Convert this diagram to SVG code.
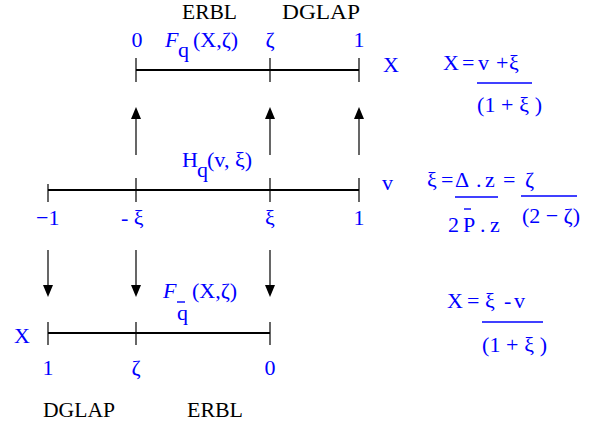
<svg xmlns="http://www.w3.org/2000/svg" width="595" height="423" viewBox="0 0 595 423">
<style>
.b{font-family:"Liberation Serif","Times New Roman",serif;font-size:22px;fill:#0000ff}
.k{font-family:"Liberation Serif","Times New Roman",serif;font-size:20px;fill:#000}
.i{font-style:italic}
.ax{stroke:#000;stroke-width:2.2;fill:none}
.tk{stroke:#000;stroke-width:1.2;fill:none}
.sh{stroke:#000;stroke-width:1.2;fill:none}
.fr{stroke:#0000ff;stroke-width:1.4;fill:none}
.ah{fill:#000}
</style>
<rect width="595" height="423" fill="#fff"/>
<g id="axis-top">
<line class="ax" x1="136" y1="70" x2="359" y2="70"/>
<line class="tk" x1="136" y1="58" x2="136" y2="82"/>
<line class="tk" x1="270" y1="58" x2="270" y2="82"/>
<line class="tk" x1="359" y1="58" x2="359" y2="82"/>
<text class="k" x="182" y="19" textLength="55" lengthAdjust="spacingAndGlyphs">ERBL</text>
<text class="k" x="282" y="19" textLength="78" lengthAdjust="spacingAndGlyphs">DGLAP</text>
<text class="b" x="137" y="47" text-anchor="middle">0</text>
<text class="b i" x="165" y="47">F</text>
<text class="b" x="178" y="57">q</text>
<text class="b" x="193" y="47">(X,ζ)</text>
<text class="b" x="270" y="47" text-anchor="middle">ζ</text>
<text class="b" x="359" y="47" text-anchor="middle">1</text>
<text class="b" x="383" y="72">X</text>
</g>
<g id="axis-middle">
<line class="ax" x1="48" y1="190" x2="359" y2="190"/>
<line class="tk" x1="48" y1="184" x2="48" y2="202"/>
<line class="tk" x1="136" y1="178" x2="136" y2="202"/>
<line class="tk" x1="270" y1="178" x2="270" y2="202"/>
<line class="tk" x1="359" y1="178" x2="359" y2="202"/>
<text class="b" x="182" y="167">H</text>
<text class="b" x="197" y="177">q</text>
<text class="b" x="207" y="167">(v, ξ)</text>
<text class="b" x="382" y="190">v</text>
<text class="b" x="36" y="225">−1</text>
<text class="b" x="121" y="225">- ξ</text>
<text class="b" x="270" y="225" text-anchor="middle">ξ</text>
<text class="b" x="359" y="225" text-anchor="middle">1</text>
</g>
<g id="axis-bottom">
<line class="ax" x1="48" y1="333" x2="270" y2="333"/>
<line class="tk" x1="48" y1="322" x2="48" y2="345"/>
<line class="tk" x1="136" y1="322" x2="136" y2="345"/>
<line class="tk" x1="270" y1="322" x2="270" y2="345"/>
<text class="b" x="14" y="343">X</text>
<text class="b" x="48" y="375" text-anchor="middle">1</text>
<text class="b" x="136" y="375" text-anchor="middle">ζ</text>
<text class="b" x="270" y="375" text-anchor="middle">0</text>
<text class="b i" x="163" y="298">F</text>
<line class="fr" x1="177" y1="302" x2="185" y2="302"/>
<text class="b" x="177" y="320">q</text>
<text class="b" x="192" y="298">(X,ζ)</text>
<text class="k" x="43" y="417" textLength="72" lengthAdjust="spacingAndGlyphs">DGLAP</text>
<text class="k" x="187" y="417" textLength="56" lengthAdjust="spacingAndGlyphs">ERBL</text>
</g>
<g id="formula-1">
<text class="b" y="70"><tspan x="443">X</tspan><tspan x="462">=</tspan><tspan x="478">v</tspan><tspan x="496">+</tspan><tspan x="509">ξ</tspan></text>
<line class="fr" x1="477" y1="83" x2="532" y2="83"/>
<text class="b" x="477" y="112" textLength="65" lengthAdjust="spacing">(1 + ξ )</text>
</g>
<g id="formula-2">
<text class="b" y="187"><tspan x="427">ξ</tspan><tspan x="441">=</tspan><tspan x="455">Δ</tspan><tspan x="476">.</tspan><tspan x="485">z</tspan><tspan x="503">=</tspan><tspan x="525">ζ</tspan></text>
<line class="fr" x1="455" y1="197" x2="498" y2="197"/>
<line class="fr" x1="521" y1="196" x2="577" y2="196"/>
<text class="b" y="232"><tspan x="448">2</tspan><tspan x="463">P</tspan><tspan x="480">.</tspan><tspan x="490">z</tspan></text>
<line class="fr" x1="464" y1="209" x2="471" y2="209"/>
<text class="b" x="522" y="223" textLength="58" lengthAdjust="spacing">(2 − ζ)</text>
</g>
<g id="formula-3">
<text class="b" y="308"><tspan x="447">X</tspan><tspan x="467">=</tspan><tspan x="485">ξ</tspan><tspan x="504">-</tspan><tspan x="514">v</tspan></text>
<line class="fr" x1="482" y1="322" x2="543" y2="322"/>
<text class="b" x="482" y="352" textLength="65" lengthAdjust="spacing">(1 + ξ )</text>
</g>
<g id="connectors">
<line class="sh" x1="136" y1="155" x2="136" y2="118"/>
<polygon class="ah" points="136,107 131,119 141,119"/>
<line class="sh" x1="270" y1="155" x2="270" y2="118"/>
<polygon class="ah" points="270,107 265,119 275,119"/>
<line class="sh" x1="359" y1="155" x2="359" y2="118"/>
<polygon class="ah" points="359,107 354,119 364,119"/>
<line class="sh" x1="48" y1="250" x2="48" y2="286"/>
<polygon class="ah" points="48,297 43,285 53,285"/>
<line class="sh" x1="136" y1="250" x2="136" y2="286"/>
<polygon class="ah" points="136,297 131,285 141,285"/>
<line class="sh" x1="270" y1="250" x2="270" y2="286"/>
<polygon class="ah" points="270,297 265,285 275,285"/>
</g>
</svg>
